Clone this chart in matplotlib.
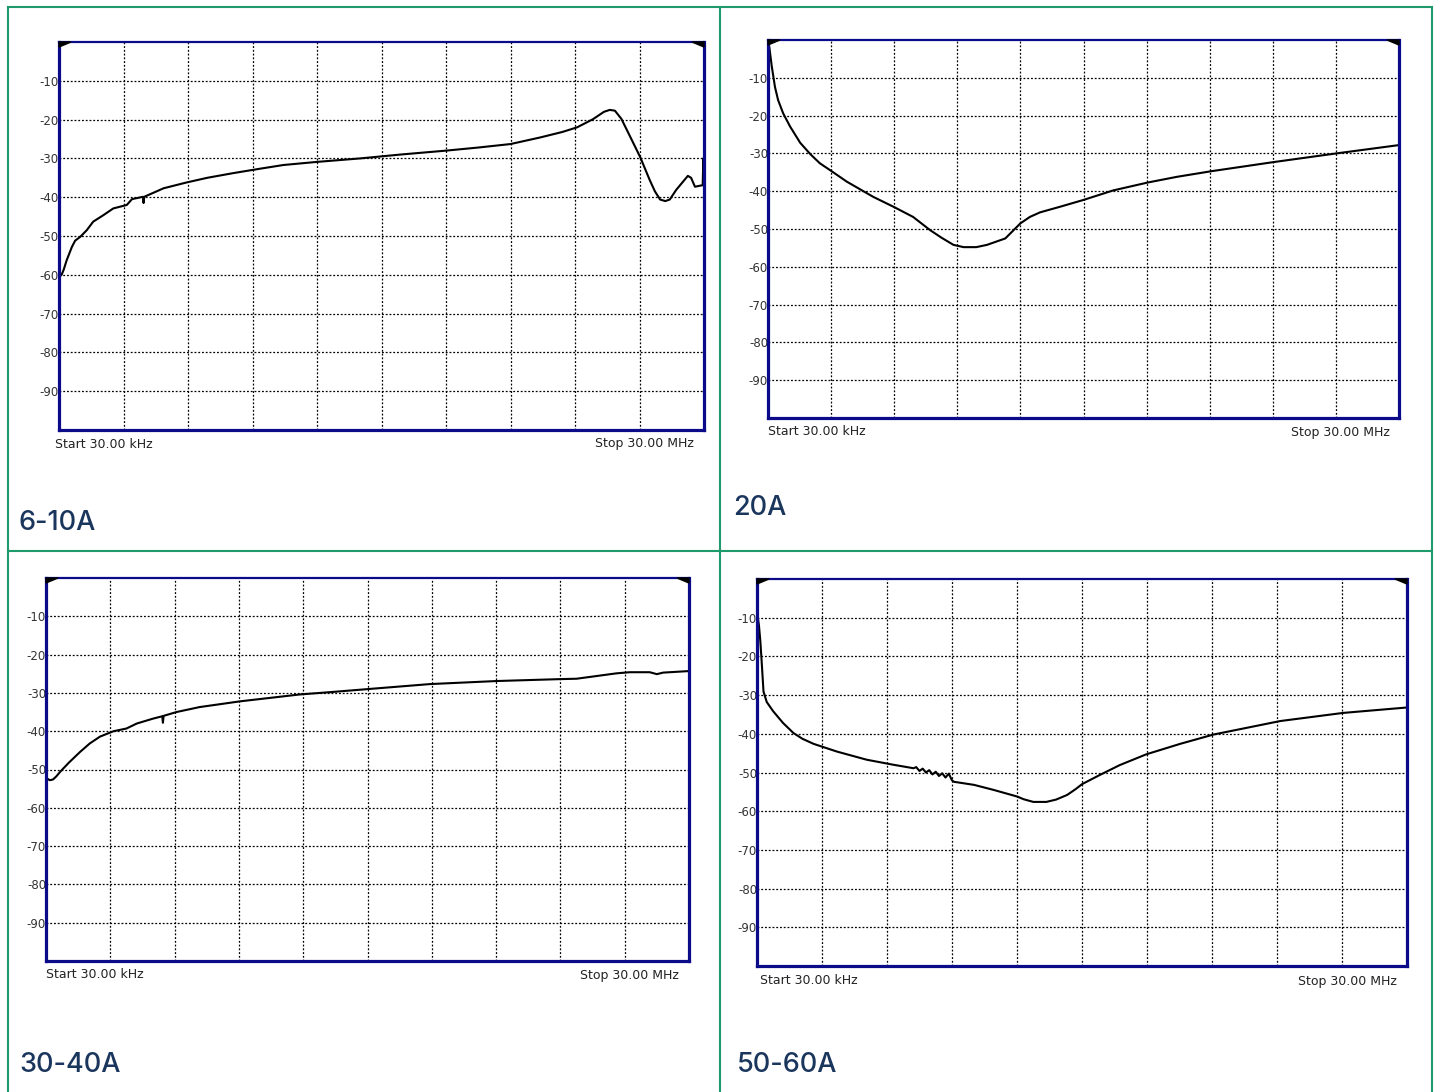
import matplotlib
matplotlib.use("Agg")
import matplotlib.pyplot as plt
from matplotlib.patches import Polygon
from matplotlib.lines import Line2D

W, H = 1438, 1092

# ---------------- data (frequency in MHz, level in dB) ----------------
titles = ["6-10A", "20A", "30-40A", "50-60A"]
start_label = "Start 30.00 kHz"
stop_label = "Stop 30.00 MHz"
y_ticks = [-10, -20, -30, -40, -50, -60, -70, -80, -90]

f_6_10 = [0.03, 0.045, 0.15, 0.24, 0.39, 0.63, 0.78, 1.02, 1.32, 1.62, 2.10, 2.55, 3.18,
          3.42, 3.93, 3.96, 3.99, 4.89, 5.96, 6.92, 8.12, 9.32, 10.46, 12.02, 14.03,
          15.91, 18.01, 19.51, 21.01, 22.39, 23.41, 24.1, 24.84, 25.35, 25.62, 25.86,
          26.16, 26.49, 27.03, 27.48, 27.72, 27.96, 28.2, 28.41, 28.71, 29.25, 29.4,
          29.58, 29.94, 29.97, 30.0, 30.0]
v_6_10 = [-43, -60.5, -60, -58.8, -56.2, -52.8, -51.2, -50.2, -48.5, -46.3, -44.6, -42.9, -42,
          -40.5, -39.9, -41.5, -39.9, -37.7, -36.2, -35.0, -33.8, -32.7, -31.7, -30.9, -30.0,
          -29.0, -28.0, -27.2, -26.3, -24.6, -23.2, -22.0, -19.9, -18.0, -17.5, -17.7,
          -19.8, -23.5, -29.6, -35.6, -38.5, -40.6, -41.0, -40.6, -38.1, -34.5, -35.0,
          -37.3, -36.9, -30.0, -35.5, -37.0]

f_20 = [0.03, 0.09, 0.21, 0.36, 0.51, 0.75, 1.08, 1.56, 2.04, 2.49, 2.97, 3.78, 5.03,
        6.02, 6.92, 7.73, 8.27, 8.84, 9.32, 9.92, 10.43, 11.30, 11.66, 12.02, 12.47,
        12.95, 13.91, 15.02, 16.42, 18.07, 19.45, 21.10, 24.04, 27.03, 30.0]
v_20 = [-0.5, -1.8, -7.0, -12.4, -15.9, -19.4, -22.9, -27.2, -30.2, -32.6, -34.4, -37.5, -41.5,
        -44.2, -46.8, -50.3, -52.3, -54.2, -54.8, -54.8, -54.2, -52.5, -50.5, -48.5, -46.8,
        -45.6, -44.1, -42.3, -39.8, -37.7, -36.2, -34.7, -32.3, -30.0, -27.8]

f_30_40 = [0.03, 0.06, 0.21, 0.36, 0.51, 0.69, 1.08, 1.62, 2.07, 2.55, 3.18, 3.78, 4.26,
           5.03, 5.45, 5.48, 5.51, 6.11, 7.19, 9.08, 11.87, 13.28, 15.04, 17.92, 21.04,
           24.01, 24.76, 26.61, 27.24, 28.17, 28.5, 28.8, 30.0]
v_30_40 = [-51.5, -52.3, -52.8, -52.6, -51.8, -50.6, -48.3, -45.4, -43.2, -41.4, -40.0, -39.3, -38.0,
           -36.7, -36.1, -37.8, -36.0, -35.0, -33.7, -32.2, -30.4, -29.8, -29.0, -27.7, -26.9,
           -26.4, -26.3, -24.9, -24.6, -24.6, -25.1, -24.7, -24.3]

f_50_60 = [0.03, 0.12, 0.18, 0.24, 0.33, 0.48, 0.78, 1.23, 1.71, 2.13, 2.64, 3.72, 5.09,
           6.32, 7.25, 7.37, 7.52, 7.67, 7.82, 7.97, 8.12, 8.27, 8.42, 8.57, 8.72, 8.87,
           9.02, 9.11, 10.04, 10.94, 12.02, 12.32, 12.77, 13.37, 13.82, 14.33, 14.72,
           15.02, 15.85, 16.75, 17.98, 19.54, 21.07, 24.16, 27.06, 30.0]
v_50_60 = [-8.5, -12.0, -15.8, -20.9, -29.1, -31.8, -34.2, -37.2, -39.8, -41.3, -42.6, -44.6, -46.7,
           -48.0, -48.9, -48.6, -49.6, -49.0, -50.0, -49.4, -50.5, -49.8, -50.9, -50.2, -51.3, -50.3,
           -52.0, -52.4, -53.2, -54.5, -56.2, -56.9, -57.6, -57.6, -57.0, -55.8, -54.3,
           -53.0, -50.6, -48.1, -45.3, -42.6, -40.2, -36.7, -34.6, -33.2]

series_f = [f_6_10, f_20, f_30_40, f_50_60]
series_v = [v_6_10, v_20, v_30_40, v_50_60]

# ---------------- layout (pixels) ----------------
axes_px = [(59, 42, 704, 430), (768, 40, 1399, 418), (46, 578, 689, 961), (757, 579, 1407, 966)]
start_pos = [(55, 444), (768, 432), (46, 975), (760, 981)]
stop_pos = [(694, 444), (1390, 433), (679, 975), (1397, 981)]
title_pos = [(19, 523), (733, 508), (19, 1065), (737, 1065)]

NAVY = "#0b0b8a"
GREEN = "#1f9a6c"
TITLE_C = "#1b365d"

fig = plt.figure(figsize=(W / 100, H / 100), dpi=100)
fig.patch.set_facecolor("white")

# green cell borders
for x in (8, 720, 1432):
    fig.add_artist(Line2D([x / W, x / W], [0, 1 - 7 / H], color=GREEN, lw=1.5))
for y in (7, 551):
    fig.add_artist(Line2D([8 / W, 1432 / W], [1 - y / H, 1 - y / H], color=GREEN, lw=1.5))

fmin, fmax = 0.03, 30.0
step = (fmax - fmin) / 10.0
x_grid = [fmin + k * step for k in range(1, 10)]

for i in range(4):
    x0, y0, x1, y1 = axes_px[i]
    w, h = x1 - x0, y1 - y0
    ax = fig.add_axes([x0 / W, 1 - y1 / H, w / W, h / H])
    ax.set_xlim(fmin, fmax)
    ax.set_ylim(-100, 0)
    ax.set_xticks(x_grid)
    ax.set_xticklabels([])
    ax.set_yticks(y_ticks)
    ax.set_yticklabels([str(t) for t in y_ticks])
    ax.tick_params(axis="both", length=0, pad=0)
    ax.tick_params(axis="y", labelsize=8.5, labelcolor="#333333")
    for lab in ax.get_yticklabels():
        lab.set_family("DejaVu Sans")
    ax.grid(True, color="black", linestyle=(0, (1.5, 1.5)), lw=0.9)
    for side in ("left", "right", "bottom"):
        ax.spines[side].set_color(NAVY)
        ax.spines[side].set_linewidth(2.3)
    ax.spines["top"].set_color(NAVY)
    ax.spines["top"].set_linewidth(1.6)
    ax.plot(series_f[i], series_v[i], color="black", lw=1.5, solid_joinstyle="round")
    # corner markers
    tw, th = 12 / w, 5 / h
    ax.add_patch(Polygon([(0, 1), (tw, 1), (0, 1 - th)], closed=True, color="black",
                         transform=ax.transAxes, clip_on=False, zorder=5))
    ax.add_patch(Polygon([(1, 1), (1 - tw, 1), (1, 1 - th)], closed=True, color="black",
                         transform=ax.transAxes, clip_on=False, zorder=5))

    sx, sy = start_pos[i]
    fig.text(sx / W, 1 - sy / H, start_label, ha="left", va="center", fontsize=9,
             color="#222222", family="DejaVu Sans")
    ex, ey = stop_pos[i]
    fig.text(ex / W, 1 - ey / H, stop_label, ha="right", va="center", fontsize=9,
             color="#222222", family="DejaVu Sans")
    tx, ty = title_pos[i]
    fig.text(tx / W, 1 - ty / H, titles[i], ha="left", va="center", fontsize=19.5,
             color=TITLE_C, family="Inter", fontweight="medium")

fig.savefig("out.png", dpi=100, facecolor="white")
